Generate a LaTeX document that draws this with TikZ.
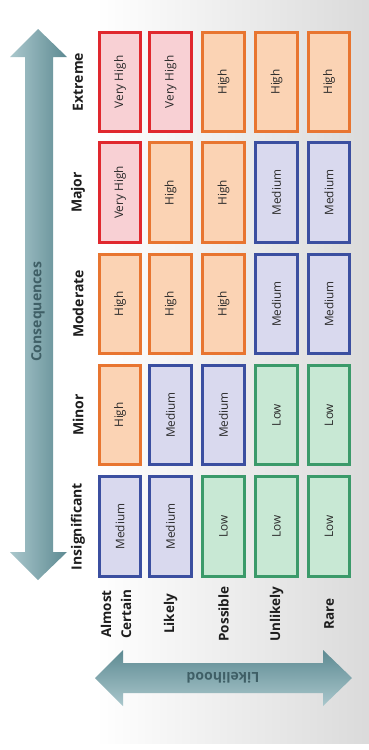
\documentclass[tikz,border=0pt]{standalone}
\usepackage{fontspec}
\setmainfont{Open Sans}
\definecolor{vhfill}{HTML}{F8D0D4}
\definecolor{vhdraw}{HTML}{E0282E}
\definecolor{hifill}{HTML}{FBD3B4}
\definecolor{hidraw}{HTML}{E87530}
\definecolor{mefill}{HTML}{D9D9EE}
\definecolor{medraw}{HTML}{3B4FA0}
\definecolor{lofill}{HTML}{C8E8D4}
\definecolor{lodraw}{HTML}{3B9A6A}
\definecolor{arrowlight}{HTML}{AAC7CC}
\definecolor{arrowdark}{HTML}{5D8A92}
\definecolor{arrowtext}{HTML}{3F5F66}
\definecolor{labeltext}{HTML}{1E1E1E}
\definecolor{celltext}{HTML}{2A2A2A}
\pgfdeclarehorizontalshading{bgshade}{100bp}{color(0bp)=(white); color(38bp)=(white); color(100bp)=(black!24)}
\tikzset{
  cell/.style={draw, line width=2.6pt, minimum width=99.5pt, minimum height=41.5pt,
    inner sep=0pt, rotate=90, font=\fontsize{11.8}{13}\selectfont, text=celltext},
  vh/.style={cell, fill=vhfill, draw=vhdraw, node contents={Very High}},
  hi/.style={cell, fill=hifill, draw=hidraw, node contents={High}},
  me/.style={cell, fill=mefill, draw=medraw, node contents={Medium}},
  lo/.style={cell, fill=lofill, draw=lodraw, node contents={Low}},
  rowlab/.style={rotate=90, font=\bfseries\fontsize{14}{16}\selectfont, text=labeltext},
  collab/.style={rotate=90, font=\bfseries\fontsize{13.5}{20}\selectfont, text=labeltext, align=center},
  arrowlab/.style={font=\bfseries\fontsize{14}{16}\selectfont, text=arrowtext}
}
\begin{document}
\begin{tikzpicture}[x=1pt,y=-1pt]
\useasboundingbox (0,0) rectangle (369,750);
\fill[shading=bgshade] (0,0) rectangle (369,743);
% consequences arrow
\path[left color=arrowlight, right color=arrowdark]
  (38,29) -- (67,57) -- (53,57) -- (53,552) -- (67,552) -- (38,580)
  -- (10,552) -- (25,552) -- (25,57) -- (10,57) -- cycle;
\node[arrowlab, rotate=90] (conseq) at (38,312) {Consequences};
% likelihood arrow
\path[top color=arrowdark, bottom color=arrowlight]
  (95,678) -- (123,650) -- (123,663) -- (323,663) -- (323,650) -- (352,678)
  -- (323,706) -- (323,693) -- (123,693) -- (123,706) -- cycle;
\node[arrowlab, rotate=180] (likeli) at (223,678) {Likelihood};
% row labels
\node[rowlab] (r1) at (78,82) {Extreme};
\node[rowlab] (r2) at (78,192.5) {Major};
\node[rowlab] (r3) at (78,304) {Moderate};
\node[rowlab] (r4) at (78,415) {Minor};
\node[rowlab] (r5) at (78,526.5) {Insignificant};
% column labels
\node[collab] (k1) at (116,614) {Almost\\Certain};
\node[collab] (k2) at (170.5,614) {Likely};
\node[collab] (k3) at (223.5,614) {Possible};
\node[collab] (k4) at (276.5,614) {Unlikely};
\node[collab] (k5) at (329,614) {Rare};
% cells
\foreach \r/\yc/\cells in {1/82/{vh,vh,hi,hi,hi}, 2/192.5/{vh,hi,hi,me,me},
    3/304/{hi,hi,hi,me,me}, 4/415/{hi,me,me,lo,lo}, 5/526.5/{me,me,lo,lo,lo}}{
  \foreach \st [count=\c] in \cells {
    \pgfmathsetmacro{\xc}{{120,170.5,223.5,276.5,329}[\c-1]}
    \node[\st, name=cell-\r-\c, at={(\xc,\yc)}];
  }
}
\end{tikzpicture}
\end{document}
